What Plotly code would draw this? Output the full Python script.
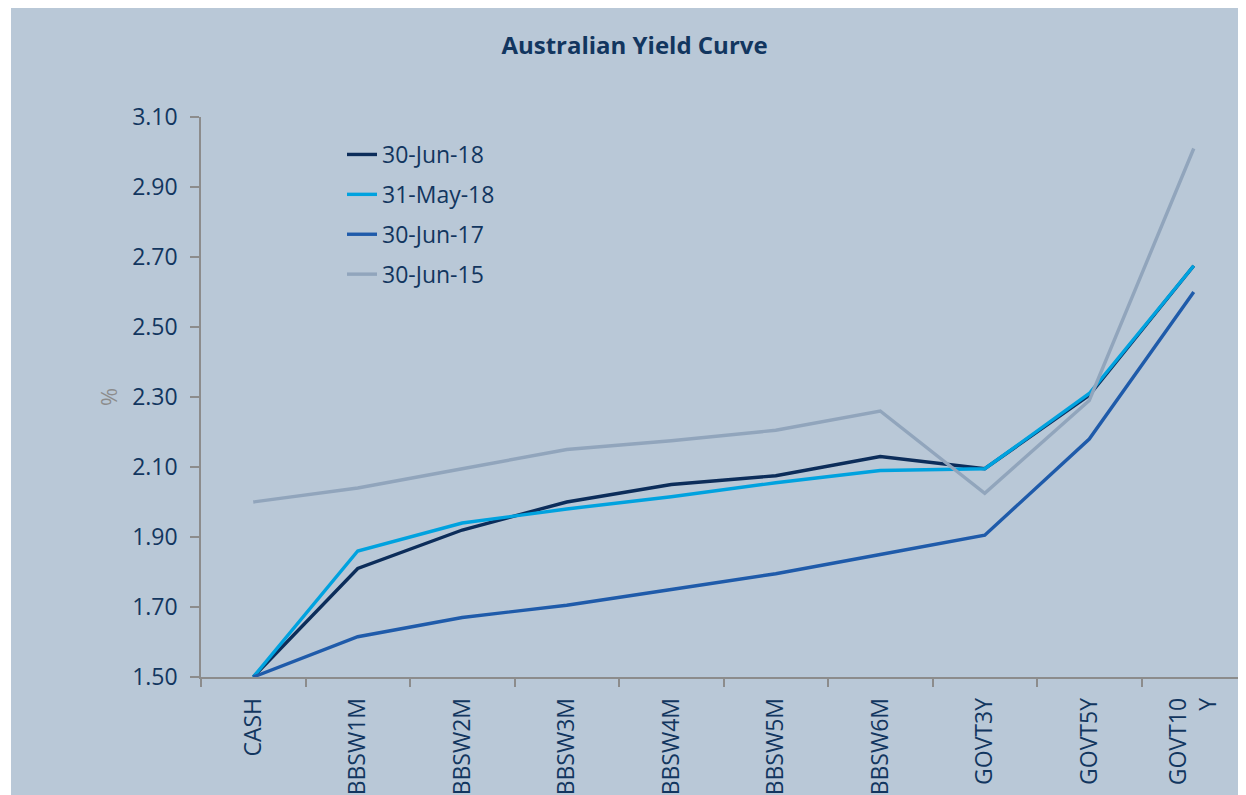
import plotly.graph_objects as go

categories = ["CASH", "BBSW1M", "BBSW2M", "BBSW3M", "BBSW4M", "BBSW5M",
              "BBSW6M", "GOVT3Y", "GOVT5Y", "GOVT10<br>Y"]

jun18 = [1.50, 1.81, 1.92, 2.00, 2.05, 2.075, 2.13, 2.095, 2.305, 2.675]
may18 = [1.50, 1.86, 1.94, 1.98, 2.015, 2.055, 2.09, 2.095, 2.31, 2.675]
jun17 = [1.50, 1.615, 1.67, 1.705, 1.75, 1.795, 1.85, 1.905, 2.18, 2.60]
jun15 = [2.00, 2.04, 2.095, 2.15, 2.175, 2.205, 2.26, 2.025, 2.29, 3.01]

series = [
    ("30-Jun-18", jun18, "#0C2D5A"),
    ("31-May-18", may18, "#00A2DF"),
    ("30-Jun-17", jun17, "#1F5BAA"),
    ("30-Jun-15", jun15, "#91A5BC"),
]

tickvals = [1.50, 1.70, 1.90, 2.10, 2.30, 2.50, 2.70, 2.90, 3.10]

BG = "#B9C8D7"
NAVY = "#12365F"
AXIS = "#8C8C8C"
FONT = "Open Sans"

fig = go.Figure()
for i, (name, vals, col) in enumerate(series):
    fig.add_trace(go.Scatter(
        x=list(range(len(categories))), y=vals, name=name, mode="lines",
        line=dict(color=col, width=3.4), legendgroup=f"g{i}",
    ))

OFF = 8  # page body margin
W, H = 1246 - OFF, 795 - OFF
L, R, T = 201 - OFF, 0, 117 - OFF
B = H - (677 - OFF)
pw, ph = W - L - R, H - T - B

def px_x(p):
    return (p - OFF - L) / pw

def px_y(p):
    return (H - B - (p - OFF)) / ph

fig.add_shape(type="rect", xref="paper", yref="paper",
              x0=px_x(11), x1=px_x(1260),
              y0=px_y(820), y1=px_y(7),
              fillcolor=BG, line=dict(width=0), layer="below")

fig.update_layout(
    width=W, height=H,
    margin=dict(l=L, r=R, t=T, b=B),
    paper_bgcolor="white",
    plot_bgcolor="rgba(0,0,0,0)",
    font=dict(family=FONT, color=NAVY),
    title=dict(text="<b>Australian Yield Curve</b>", x=px_x(634.5),
               xref="paper", xanchor="center", y=1 - (46 - OFF) / H, yanchor="middle",
               font=dict(size=24, color=NAVY, family=FONT)),
    showlegend=True,
    legend=dict(x=px_x(342), y=px_y(133), xanchor="left", yanchor="top",
                bgcolor="rgba(0,0,0,0)", font=dict(size=23, color=NAVY, family=FONT),
                traceorder="grouped", tracegroupgap=7),
    xaxis=dict(
        tickmode="array", tickvals=list(range(len(categories))), ticktext=categories,
        range=[-0.5, len(categories) - 0.5],
        showgrid=False, zeroline=False,
        showline=True, linecolor=AXIS, linewidth=1.5,
        ticks="", ticklabelstandoff=10,
        tickangle=-90, tickfont=dict(size=23, color=NAVY, family=FONT),
        minor=dict(tickmode="array",
                   tickvals=[i - 0.5 for i in range(len(categories) + 1)],
                   ticks="outside", ticklen=8, tickcolor=AXIS, tickwidth=1.5),
    ),
    yaxis=dict(
        range=[1.5, 3.1], tickmode="array", tickvals=tickvals,
        ticktext=[f"{v:.2f}" for v in tickvals],
        showgrid=False, zeroline=False,
        showline=True, linecolor=AXIS, linewidth=1.5,
        ticks="outside", ticklen=9, tickcolor=AXIS, tickwidth=1.5,
        ticklabelstandoff=8,
        tickfont=dict(size=23, color=NAVY, family=FONT),
        title=dict(text="%", font=dict(size=22, color=AXIS, family=FONT), standoff=8),
    ),
)

fig.write_html("out.html")
